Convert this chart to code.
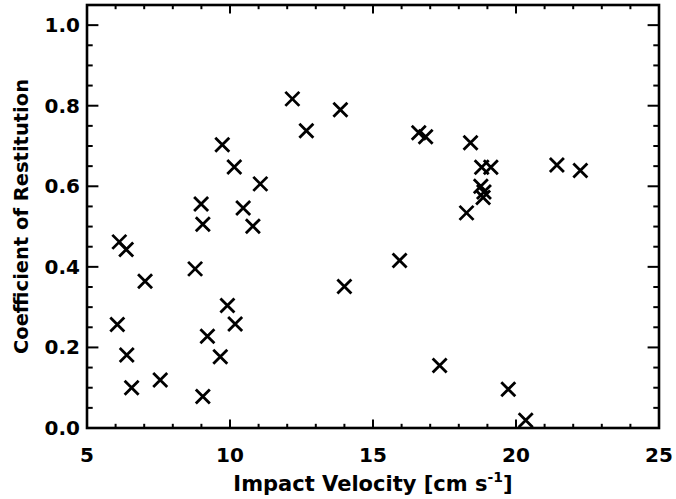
<!DOCTYPE html>
<html>
<head>
<meta charset="utf-8">
<script src="https://cdn.jsdelivr.net/npm/d3@7"></script>
<style>
  body { margin: 0; background: #fff; }
  text { font-family: "DejaVu Sans", Verdana, sans-serif; font-weight: bold; fill: #000; }
</style>
</head>
<body>
<div id="chart"></div>
<script>
// impact velocity (cm/s) and coefficient of restitution
const velocity = [
  6.13, 6.37, 7.03, 8.78, 6.06, 6.39, 6.56, 7.56, 9.05, 9.21,
  9.66, 9.91, 10.18, 9.05, 10.80, 8.99, 9.73, 10.15, 10.46, 11.06,
  12.18, 12.67, 13.86, 14.00, 16.60, 16.84, 18.41, 18.80, 19.12, 18.77,
  18.88, 18.85, 18.27, 21.43, 22.25, 15.93, 17.33, 19.73, 20.34
];
const restitution = [
  0.462, 0.443, 0.364, 0.395, 0.257, 0.181, 0.100, 0.119, 0.078, 0.228,
  0.177, 0.304, 0.258, 0.506, 0.501, 0.556, 0.703, 0.648, 0.546, 0.606,
  0.817, 0.738, 0.790, 0.351, 0.733, 0.723, 0.708, 0.647, 0.647, 0.600,
  0.586, 0.572, 0.534, 0.653, 0.639, 0.416, 0.155, 0.096, 0.019
];
const xTicks = [5, 10, 15, 20, 25];
const yTicks = [0.0, 0.2, 0.4, 0.6, 0.8, 1.0];
const xMinor = d3.range(5, 26, 1);
const yMinor = d3.range(0, 1.051, 0.05);

const width = 676;
const height = 499;
const margin = { top: 5, right: 17, bottom: 71, left: 87 };

const svg = d3
  .select("#chart")
  .append("svg")
  .attr("width", width)
  .attr("height", height);

const x = d3
  .scaleLinear()
  .domain([5, 25])
  .range([margin.left, width - margin.right]);

const y = d3
  .scaleLinear()
  .domain([0, 1.05])
  .range([height - margin.bottom, margin.top]);

const x0 = x.range()[0], x1 = x.range()[1];
const y0 = y.range()[0], y1 = y.range()[1];

// ticks point inward on all four sides, like IDL
const xLen = 8.4, yLen = 11.4;

// x ticks (bottom + top)
[y0, y1].forEach((yy, k) => {
  const dir = k === 0 ? -1 : 1;
  svg
    .selectAll(".xminor" + k)
    .data(xMinor)
    .enter()
    .append("line")
    .attr("x1", (d) => x(d))
    .attr("x2", (d) => x(d))
    .attr("y1", yy)
    .attr("y2", (d) => yy + dir * (xTicks.includes(d) ? xLen : xLen / 2))
    .attr("stroke", "#000")
    .attr("stroke-width", 2);
});

// y ticks (left + right)
[x0, x1].forEach((xx, k) => {
  const dir = k === 0 ? 1 : -1;
  svg
    .selectAll(".yminor" + k)
    .data(yMinor)
    .enter()
    .append("line")
    .attr("y1", (d) => y(d))
    .attr("y2", (d) => y(d))
    .attr("x1", xx)
    .attr("x2", (d, i) => xx + dir * (i % 4 === 0 ? yLen : yLen / 2))
    .attr("stroke", "#000")
    .attr("stroke-width", 2);
});

// frame
svg
  .append("rect")
  .attr("x", x0)
  .attr("y", y1)
  .attr("width", x1 - x0)
  .attr("height", y0 - y1)
  .attr("fill", "none")
  .attr("stroke", "#000")
  .attr("stroke-width", 2.6);

// tick labels
svg
  .selectAll(".xlab")
  .data(xTicks)
  .enter()
  .append("text")
  .attr("class", "xlab")
  .attr("x", (d) => x(d))
  .attr("y", y0 + 34)
  .attr("text-anchor", "middle")
  .attr("font-size", 20)
  .text((d) => d);

svg
  .selectAll(".ylab")
  .data(yTicks)
  .enter()
  .append("text")
  .attr("class", "ylab")
  .attr("x", x0 - 7)
  .attr("y", (d) => y(d) + 7)
  .attr("text-anchor", "end")
  .attr("font-size", 20)
  .text((d) => d.toFixed(1));

// axis titles
const xt = svg
  .append("text")
  .attr("x", (x0 + x1) / 2)
  .attr("y", 491)
  .attr("text-anchor", "middle")
  .attr("font-size", 21);
xt.append("tspan").text("Impact Velocity [cm s");
xt.append("tspan").attr("dy", -9).attr("font-size", 14).text("-1");
xt.append("tspan").attr("dy", 9).text("]");

svg
  .append("text")
  .attr("transform", `translate(28,${(y0 + y1) / 2}) rotate(-90)`)
  .attr("text-anchor", "middle")
  .attr("font-size", 19.5)
  .text("Coefficient of Restitution");

// X markers
const data = velocity.map((v, i) => ({ v: v, c: restitution[i] }));
const s = 7;
svg
  .selectAll(".pt")
  .data(data)
  .enter()
  .append("path")
  .attr("class", "pt")
  .attr("d", (d) => {
    const cx = x(d.v), cy = y(d.c);
    return `M${cx - s},${cy - s}L${cx + s},${cy + s}M${cx - s},${cy + s}L${cx + s},${cy - s}`;
  })
  .attr("stroke", "#000")
  .attr("stroke-width", 2.8)
  .attr("fill", "none");
</script>
</body>
</html>
